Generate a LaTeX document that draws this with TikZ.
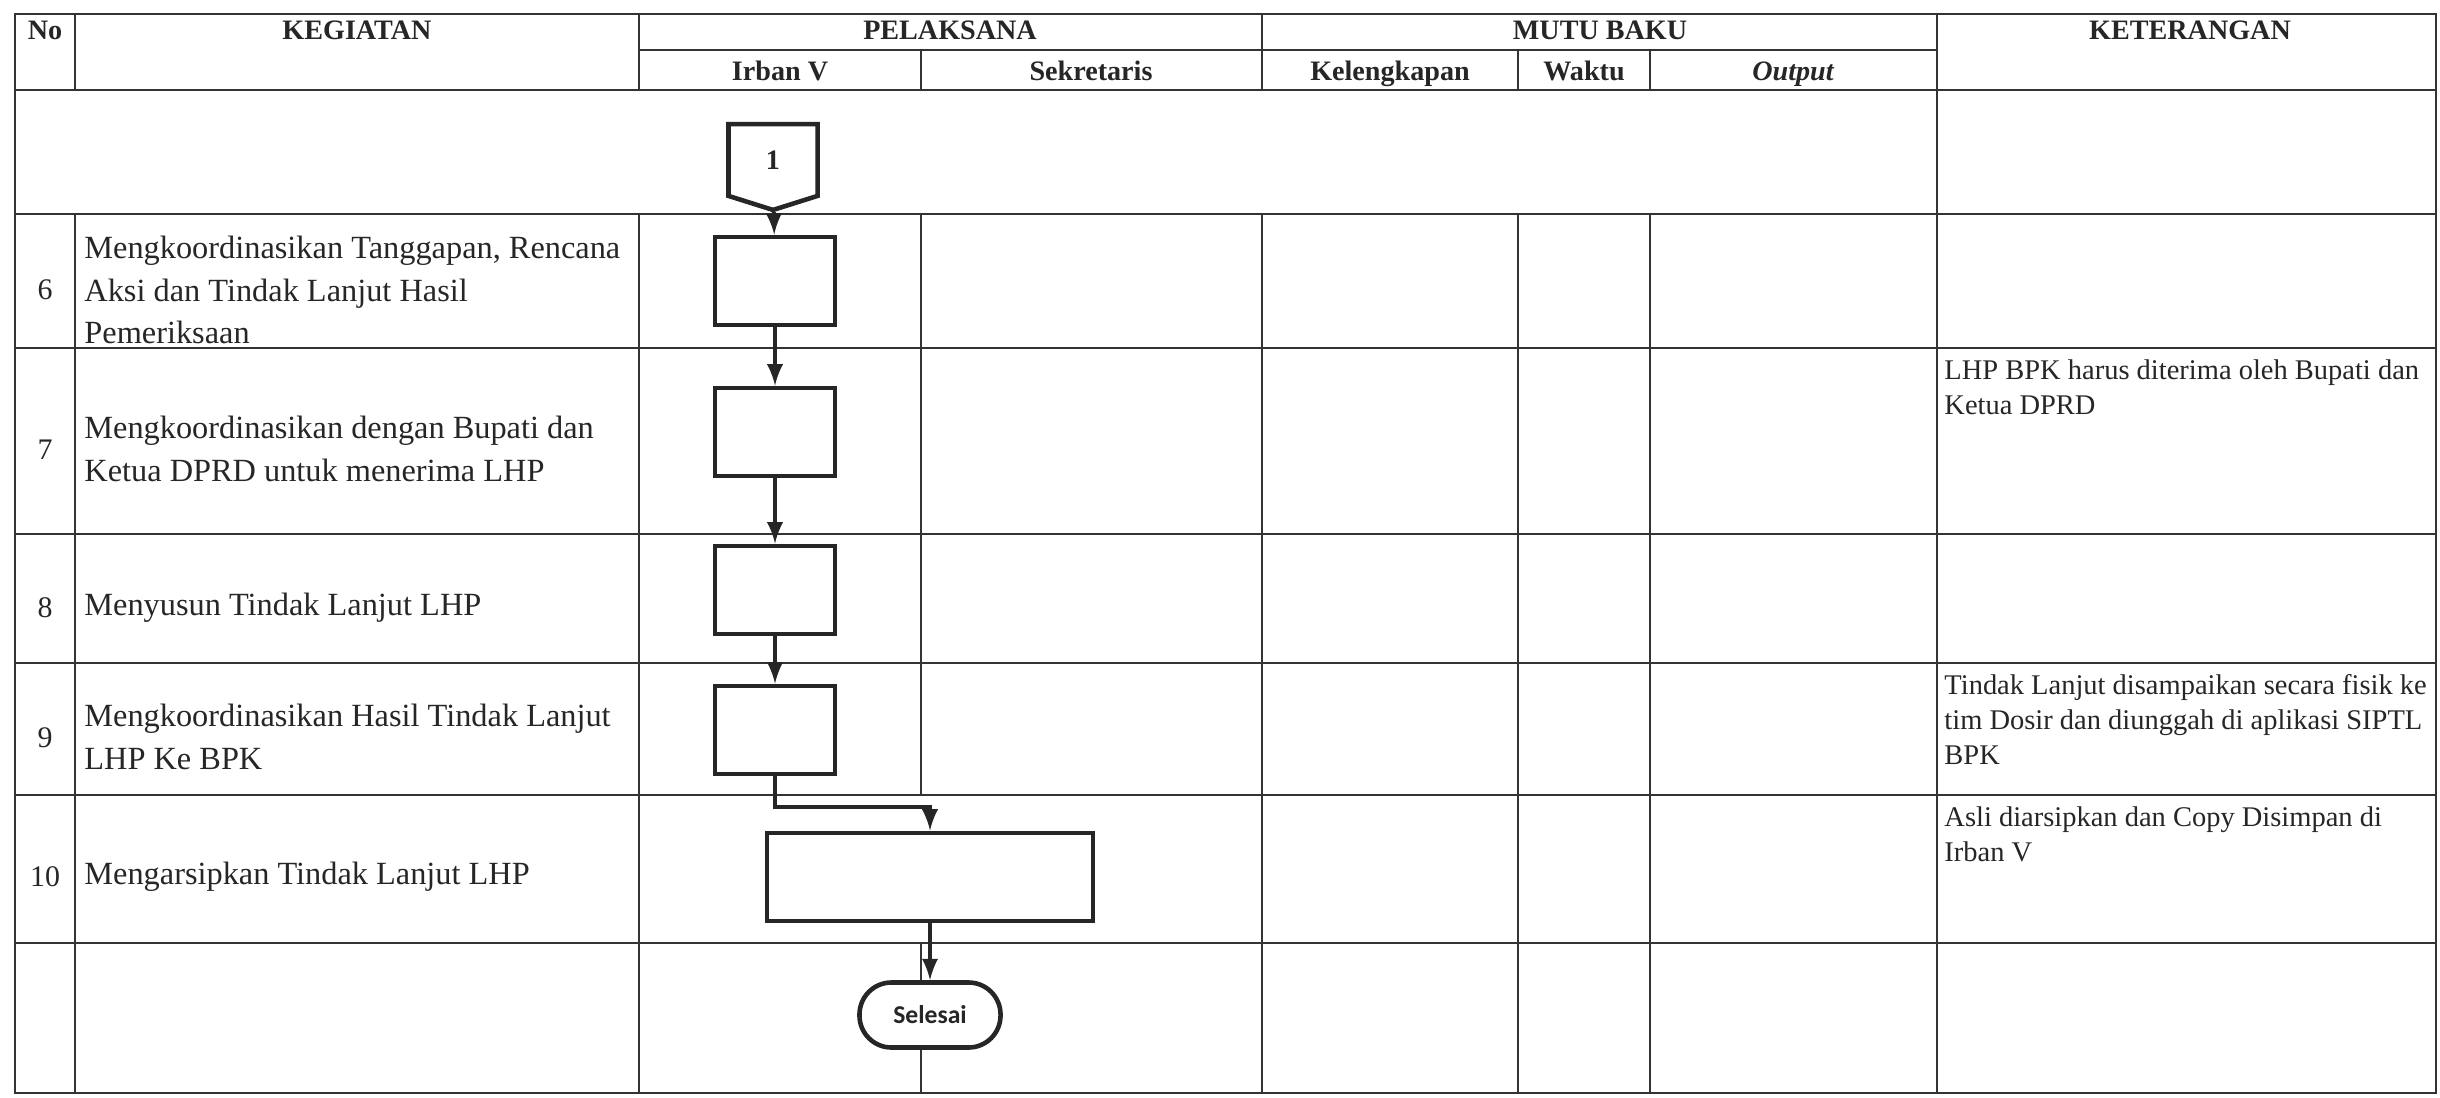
\documentclass[tikz,border=0pt]{standalone}
\usepackage{fontspec}
\setmainfont{Liberation Serif}
\newfontfamily\selfont{Carlito}
\usetikzlibrary{shapes.symbols, arrows}

\begin{document}
\begin{tikzpicture}[x=0.01cm, y=-0.01cm, thick,
  grid/.style = {draw=black!80, line width=0.8pt},
  hd/.style = {anchor=base, inner sep=0pt, text=black!85, font=\fontsize{8}{9.5}\selectfont\bfseries},
  nr/.style = {inner sep=0pt, text=black!85, font=\fontsize{8.5}{10}\selectfont},
  kg/.style = {anchor=west, align=left, inner sep=0pt, text=black!85, font=\fontsize{9.2}{12.2}\selectfont},
  kt/.style = {anchor=north west, align=left, inner sep=0pt, text=black!85, font=\fontsize{8.1}{10}\selectfont},
  proc/.style = {draw=black!85, fill=white, line width=1.3pt, minimum width=1.2cm, minimum height=0.88cm},
  flow/.style = {-latex, draw=black!85, line width=1.1pt}]

\useasboundingbox (0,0) rectangle (2440,1097);

% table frame and row lines
\draw[grid] (15,14) rectangle (2436,1093);
\foreach \y in {90,214,348,534,663,795,943} \draw[grid] (15,\y) -- (2436,\y);
\draw[grid] (639,50) -- (1937,50);

% header columns
\foreach \x in {75,639,1262,1937} \draw[grid] (\x,14) -- (\x,90);
\foreach \x in {921,1518,1650} \draw[grid] (\x,50) -- (\x,90);

% body columns
\draw[grid] (1937,90) -- (1937,1093);
\foreach \x in {75,639,1262,1518,1650} \draw[grid] (\x,214) -- (\x,1093);
\draw[grid] (921,214) -- (921,795);
\draw[grid] (921,943) -- (921,1093);

%--- header ---
\node[hd] (hNo)   at (45,40)   {No};
\node[hd] (hKeg)  at (357,40)  {KEGIATAN};
\node[hd] (hPel)  at (950,40)  {PELAKSANA};
\node[hd] (hMutu) at (1600,40) {MUTU BAKU};
\node[hd] (hKet)  at (2190,40) {KETERANGAN};
\node[hd] (hIrb)  at (780,81)  {Irban V};
\node[hd] (hSek)  at (1091,81) {Sekretaris};
\node[hd] (hKel)  at (1390,81) {Kelengkapan};
\node[hd] (hWak)  at (1584,81) {Waktu};
\node[hd] (hOut)  at (1793,81) {\itshape Output};

%--- nomor ---
\node[nr] (n6)  at (45,290) {6};
\node[nr] (n7)  at (45,450) {7};
\node[nr] (n8)  at (45,608) {8};
\node[nr] (n9)  at (45,738) {9};
\node[nr] (n10) at (45,877) {10};

%--- kegiatan ---
\node[kg] (k6)  at (83,290) {Mengkoordinasikan Tanggapan, Rencana\\Aksi dan Tindak Lanjut Hasil\\Pemeriksaan};
\node[kg] (k7)  at (83,449) {Mengkoordinasikan dengan Bupati dan\\Ketua DPRD untuk menerima LHP};
\node[kg] (k8)  at (83,608) {Menyusun Tindak Lanjut LHP};
\node[kg] (k9)  at (83,737) {Mengkoordinasikan Hasil Tindak Lanjut\\LHP Ke BPK};
\node[kg] (k10) at (83,877) {Mengarsipkan Tindak Lanjut LHP};

%--- keterangan ---
\node[kt] (ket7)  at (1943,358) {LHP BPK harus diterima oleh Bupati dan\\Ketua DPRD};
\node[kt] (ket9)  at (1943,673) {Tindak Lanjut disampaikan secara fisik ke\\tim Dosir dan diunggah di aplikasi SIPTL\\BPK};
\node[kt] (ket10) at (1943,805) {Asli diarsipkan dan Copy Disimpan di\\Irban V};

%--- flow Irban V ---
\node[draw=black!85, fill=white, line width=1.3pt, signal, signal to=south, signal from=nowhere, signal pointer angle=145,
      minimum width=0.89cm, minimum height=0.74cm, inner sep=0pt, text=black!85, font=\fontsize{8}{9}\selectfont\bfseries] (c1) at (773,160) {1};
\node[proc] (b6) at (775,281) {};
\node[proc] (b7) at (775,432) {};
\node[proc] (b8) at (775,590) {};
\node[proc] (b9) at (775,730) {};
\node[proc, minimum width=3.26cm] (b10) at (930,877) {};
\node[draw=black!85, fill=white, line width=1.3pt, rounded corners=3.2mm, minimum width=1.41cm, minimum height=0.65cm,
      text=black!85, font=\selfont\fontsize{7.3}{8}\selectfont\bfseries] (sel) at (930,1015) {Selesai};

\draw[flow] (c1) -- (b6);
\draw[flow] (b6) -- (b7);
\draw[flow] (b7) -- (b8);
\draw[flow] (b8) -- (b9);
\draw[flow] (b9.south) -- ++(0,31) -| (b10.north);
\draw[flow] (b10) -- (sel);

\end{tikzpicture}
\end{document}
